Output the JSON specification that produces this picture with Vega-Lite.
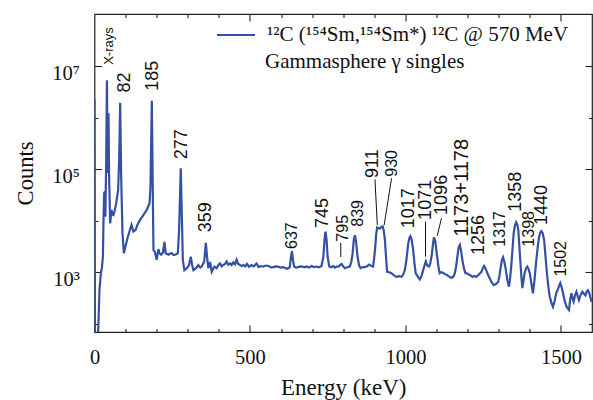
{
  "$schema": "https://vega.github.io/schema/vega-lite/v6.json",
  "width": 497.5,
  "height": 318,
  "autosize": {"type": "none"},
  "padding": {"left": 94.5, "top": 14, "right": 1, "bottom": 68},
  "background": "white",
  "config": {
    "view": {"stroke": "#222", "strokeWidth": 1.2},
    "axis": {"grid": false, "domain": false, "tickColor": "#222", "tickWidth": 1.1, "labelFlush": false}
  },
  "datasets": {
    "spectrum": [
      {"E":0,"C":2290000},{"E":1.5,"C":20},{"E":9,"C":20},{"E":12,"C":79},{"E":16,"C":457},{"E":20.5,"C":955},{"E":24,"C":1260},{"E":27,"C":2000},{"E":29,"C":10500},{"E":31,"C":34700},{"E":33,"C":36300},{"E":35,"C":12000},{"E":37.6,"C":151000},{"E":40,"C":5370000},{"E":42,"C":85000},{"E":45,"C":1230000},{"E":47,"C":72400},{"E":50.4,"C":8900},{"E":54.7,"C":16200},{"E":58,"C":13200},{"E":61,"C":12900},{"E":65,"C":15800},{"E":69.7,"C":21900},{"E":76,"C":39800},{"E":79.3,"C":151000},{"E":82.6,"C":1950000},{"E":85.8,"C":72400},{"E":90,"C":5750},{"E":94.4,"C":2340},{"E":99.6,"C":3160},{"E":106,"C":4570},{"E":112.4,"C":6170},{"E":119,"C":8320},{"E":125,"C":6170},{"E":132,"C":6610},{"E":138,"C":8320},{"E":147,"C":10500},{"E":157,"C":12900},{"E":168,"C":16200},{"E":177,"C":21900},{"E":180,"C":45700},{"E":184.4,"C":2140000},{"E":186.4,"C":151000},{"E":189.6,"C":2690},{"E":194,"C":2510},{"E":200,"C":1740},{"E":205.6,"C":2820},{"E":209,"C":2340},{"E":214,"C":2190},{"E":220,"C":2400},{"E":225,"C":3890},{"E":229,"C":2340},{"E":238,"C":2190},{"E":243,"C":2300},{"E":248.6,"C":2340},{"E":254,"C":2150},{"E":259,"C":2190},{"E":264,"C":2250},{"E":268,"C":2340},{"E":272,"C":6610},{"E":277.5,"C":105000},{"E":280.7,"C":14100},{"E":284,"C":1740},{"E":289,"C":1100},{"E":297,"C":1200},{"E":304,"C":1380},{"E":309.7,"C":2000},{"E":314,"C":1380},{"E":318,"C":1100},{"E":326.7,"C":1200},{"E":334,"C":1380},{"E":340,"C":1230},{"E":345,"C":1290},{"E":353,"C":1620},{"E":358,"C":3720},{"E":362,"C":2000},{"E":366,"C":1200},{"E":371.7,"C":1580},{"E":377,"C":1020},{"E":385.7,"C":1290},{"E":393,"C":1200},{"E":399,"C":1400},{"E":404,"C":1480},{"E":409,"C":1300},{"E":414,"C":1380},{"E":420,"C":1450},{"E":425,"C":1620},{"E":430,"C":1400},{"E":436,"C":1480},{"E":441,"C":1380},{"E":446.5,"C":1550},{"E":452,"C":1420},{"E":457,"C":1740},{"E":462,"C":1450},{"E":468,"C":1380},{"E":474,"C":1320},{"E":479,"C":1380},{"E":485,"C":1300},{"E":490,"C":1450},{"E":497,"C":1280},{"E":505,"C":1380},{"E":512,"C":1300},{"E":521,"C":1480},{"E":528,"C":1260},{"E":535,"C":1320},{"E":543,"C":1290},{"E":551,"C":1350},{"E":560,"C":1320},{"E":567,"C":1240},{"E":575,"C":1260},{"E":582,"C":1300},{"E":590,"C":1290},{"E":598,"C":1230},{"E":607,"C":1260},{"E":614,"C":1200},{"E":620,"C":1170},{"E":628,"C":1250},{"E":631.5,"C":1900},{"E":635,"C":2570},{"E":638.5,"C":1700},{"E":642,"C":1290},{"E":648,"C":1230},{"E":655,"C":1260},{"E":662,"C":1300},{"E":668,"C":1290},{"E":675,"C":1250},{"E":682,"C":1290},{"E":690,"C":1230},{"E":698,"C":1320},{"E":706,"C":1260},{"E":714,"C":1290},{"E":722,"C":1250},{"E":730,"C":1320},{"E":736,"C":2000},{"E":740,"C":4500},{"E":743,"C":6170},{"E":746.5,"C":4200},{"E":749.7,"C":2000},{"E":755,"C":1290},{"E":761,"C":1250},{"E":768,"C":1320},{"E":773,"C":1230},{"E":778.6,"C":1290},{"E":786,"C":1300},{"E":791,"C":1400},{"E":795,"C":1450},{"E":800,"C":1300},{"E":805,"C":1200},{"E":813,"C":1250},{"E":821,"C":1290},{"E":826,"C":1600},{"E":830,"C":2290},{"E":834,"C":4300},{"E":837.5,"C":5250},{"E":841,"C":4000},{"E":846,"C":2000},{"E":851,"C":1350},{"E":856,"C":1200},{"E":863,"C":1260},{"E":870,"C":1260},{"E":876,"C":1300},{"E":883,"C":1410},{"E":889,"C":1330},{"E":896,"C":1290},{"E":900,"C":2000},{"E":903,"C":3160},{"E":906,"C":5500},{"E":909,"C":7410},{"E":913,"C":7200},{"E":918,"C":7080},{"E":922,"C":7500},{"E":926.6,"C":7760},{"E":930,"C":6600},{"E":934,"C":4270},{"E":937,"C":2200},{"E":941,"C":1020},{"E":948,"C":1000},{"E":955,"C":955},{"E":963,"C":870},{"E":971,"C":813},{"E":979,"C":840},{"E":987.5,"C":813},{"E":993,"C":900},{"E":998,"C":1100},{"E":1003,"C":1700},{"E":1009,"C":3630},{"E":1013,"C":4700},{"E":1016,"C":5010},{"E":1020,"C":4300},{"E":1025,"C":2690},{"E":1029,"C":1500},{"E":1033,"C":955},{"E":1040,"C":820},{"E":1046,"C":724},{"E":1052,"C":850},{"E":1057,"C":1100},{"E":1062,"C":1400},{"E":1065.5,"C":1620},{"E":1070,"C":1350},{"E":1076,"C":1290},{"E":1080,"C":1500},{"E":1085,"C":2240},{"E":1089,"C":3700},{"E":1092,"C":4790},{"E":1096,"C":4000},{"E":1099,"C":2800},{"E":1102,"C":2000},{"E":1106,"C":1300},{"E":1110,"C":955},{"E":1115,"C":1000},{"E":1121,"C":977},{"E":1126,"C":930},{"E":1132,"C":891},{"E":1140,"C":830},{"E":1148,"C":776},{"E":1154,"C":820},{"E":1159,"C":955},{"E":1163,"C":1300},{"E":1167,"C":2000},{"E":1171,"C":3000},{"E":1175,"C":3390},{"E":1179,"C":2600},{"E":1183,"C":1740},{"E":1188,"C":1200},{"E":1193,"C":955},{"E":1198,"C":950},{"E":1205,"C":891},{"E":1210,"C":870},{"E":1215.5,"C":813},{"E":1222,"C":850},{"E":1228,"C":813},{"E":1236,"C":900},{"E":1244.5,"C":1020},{"E":1249,"C":1200},{"E":1253,"C":1320},{"E":1257,"C":1200},{"E":1262,"C":1020},{"E":1266,"C":880},{"E":1271,"C":759},{"E":1277,"C":640},{"E":1284,"C":562},{"E":1291,"C":590},{"E":1298,"C":646},{"E":1302,"C":820},{"E":1305,"C":1100},{"E":1310,"C":1700},{"E":1314,"C":1950},{"E":1318,"C":1600},{"E":1322,"C":1200},{"E":1327,"C":750},{"E":1333,"C":525},{"E":1337,"C":800},{"E":1341,"C":1480},{"E":1345,"C":3200},{"E":1348,"C":5620},{"E":1352,"C":8000},{"E":1356,"C":9300},{"E":1360,"C":8300},{"E":1363,"C":6610},{"E":1366,"C":3500},{"E":1370,"C":1480},{"E":1373,"C":800},{"E":1376,"C":490},{"E":1380,"C":700},{"E":1383,"C":955},{"E":1388,"C":1200},{"E":1392,"C":1290},{"E":1396,"C":1150},{"E":1400,"C":955},{"E":1405,"C":600},{"E":1410,"C":389},{"E":1415,"C":700},{"E":1421,"C":1740},{"E":1426,"C":3300},{"E":1430,"C":4900},{"E":1434,"C":6000},{"E":1437,"C":6310},{"E":1441,"C":5800},{"E":1446,"C":4270},{"E":1450,"C":2200},{"E":1455,"C":955},{"E":1460,"C":500},{"E":1464,"C":339},{"E":1469,"C":260},{"E":1474.5,"C":214},{"E":1480,"C":280},{"E":1485,"C":389},{"E":1491,"C":480},{"E":1495,"C":560},{"E":1498,"C":617},{"E":1502,"C":520},{"E":1507,"C":389},{"E":1512,"C":280},{"E":1518,"C":214},{"E":1522,"C":200},{"E":1526,"C":186},{"E":1530,"C":300},{"E":1534,"C":389},{"E":1538,"C":300},{"E":1541,"C":269},{"E":1545,"C":350},{"E":1550,"C":417},{"E":1554,"C":340},{"E":1558,"C":288},{"E":1563,"C":360},{"E":1569,"C":417},{"E":1574,"C":380},{"E":1579,"C":355},{"E":1583,"C":420},{"E":1587,"C":447},{"E":1592,"C":380},{"E":1598,"C":269},{"E":1600,"C":300}
    ],
    "labels_large": [
      {"label":"82","E":98.6,"C":3090000},{"label":"185","E":189.2,"C":3360000},{"label":"277","E":280.1,"C":156000},{"label":"359","E":359.8,"C":5980},{"label":"745","E":734.7,"C":7240},{"label":"911","E":896,"C":67800},{"label":"1017","E":1010,"C":7140},{"label":"1071","E":1065.5,"C":10400},{"label":"1096","E":1117.6,"C":13000},{"label":"1256","E":1238,"C":2170},{"label":"1358","E":1355.6,"C":15000},{"label":"1440","E":1440,"C":8280}
    ],
    "labels_doublet": [
      {"label":"1173+1178","E":1181.8,"C":4910}
    ],
    "labels_small": [
      {"label":"637","E":635,"C":2830},{"label":"795","E":800,"C":3930},{"label":"839","E":846.5,"C":7670},{"label":"930","E":955.3,"C":71800},{"label":"1317","E":1303,"C":3140},{"label":"1398","E":1397,"C":3140},{"label":"1502","E":1500,"C":822}
    ],
    "labels_xray": [
      {"label":"X-rays","E":45.6,"C":10700000}
    ],
    "leaders": [
      {"E":792,"C":3710,"E2":792,"C2":1980},
      {"E":902,"C":64000,"E2":909.5,"C2":8280},
      {"E":955.3,"C":66800,"E2":931.6,"C2":8280},
      {"E":1064.6,"C":9620,"E2":1064.6,"C2":2010},
      {"E":1116,"C":11200,"E2":1102,"C2":5070}
    ],
    "note": [
      {"label":"Gammasphere γ singles","E":548.3,"C":9270000}
    ]
  },
  "resolve": {"axis": {"x": "independent", "y": "independent"}},
  "layer": [
    {
      "data": {"name": "spectrum"},
      "mark": {"type": "line", "strokeWidth": 2.2, "clip": true},
      "encoding": {
        "x": {"field": "E", "type": "quantitative", "scale": {"domain": [0, 1600], "nice": false, "zero": false},
              "axis": {"orient": "bottom", "values": [0, 500, 1000, 1500], "tickSize": -7, "labelPadding": 22, "labelFont": "Liberation Serif", "labelFontSize": 20.5, "labelColor": "#111", "format": "d",
                       "title": "Energy (keV)", "titleFont": "Liberation Serif", "titleFontSize": 23, "titleFontWeight": "normal", "titleColor": "#111", "titlePadding": 9}},
        "y": {"field": "C", "type": "quantitative", "scale": {"type": "log", "domain": [69, 104000000], "nice": false},
              "axis": {"orient": "left", "values": [1000, 100000, 10000000], "tickSize": -7, "labelPadding": 22, "labelFont": "Liberation Serif", "labelFontSize": 20.5, "labelColor": "#111", "labelBaseline": "top", "labelOffset": -3,
                       "labelExpr": "datum.value == 1000 ? '10³' : datum.value == 100000 ? '10⁵' : '10⁷'",
                       "title": "Counts", "titleFont": "Liberation Serif", "titleFontSize": 22.5, "titleFontWeight": "normal", "titleColor": "#111", "titlePadding": 14}},
        "color": {"datum": "¹²C (¹⁵⁴Sm,¹⁵⁴Sm*) ¹²C @ 570 MeV", "type": "nominal", "scale": {"range": ["#3450a4"]},
                  "legend": {"orient": "none", "legendX": 121.5, "legendY": 1, "title": null, "padding": 0, "symbolType": "stroke", "symbolSize": 1444, "symbolStrokeWidth": 2, "labelOffset": 11, "labelFont": "Liberation Serif", "labelFontSize": 21, "labelColor": "#111", "labelLimit": 0}}
      }
    },
    {
      "data": {"name": "spectrum"},
      "mark": {"type": "line", "opacity": 0},
      "encoding": {
        "x": {"field": "E", "type": "quantitative", "scale": {"domain": [0, 1600], "nice": false, "zero": false},
              "axis": {"orient": "bottom", "values": [100, 200, 300, 400, 600, 700, 800, 900, 1100, 1200, 1300, 1400], "tickSize": -3.5, "labels": false, "title": null}},
        "y": {"field": "C", "type": "quantitative", "scale": {"type": "log", "domain": [69, 104000000], "nice": false},
              "axis": {"orient": "left", "values": [100, 10000, 1000000], "tickSize": -3.5, "labels": false, "title": null}}
      }
    },
    {
      "data": {"name": "spectrum"},
      "mark": {"type": "line", "opacity": 0},
      "encoding": {
        "x": {"field": "E", "type": "quantitative", "scale": {"domain": [0, 1600], "nice": false, "zero": false},
              "axis": {"orient": "top", "values": [500, 1000, 1500], "tickSize": -7, "labels": false, "title": null}},
        "y": {"field": "C", "type": "quantitative", "scale": {"type": "log", "domain": [69, 104000000], "nice": false},
              "axis": {"orient": "right", "values": [1000, 100000, 10000000], "tickSize": -7, "labels": false, "title": null}}
      }
    },
    {
      "data": {"name": "spectrum"},
      "mark": {"type": "line", "opacity": 0},
      "encoding": {
        "x": {"field": "E", "type": "quantitative", "scale": {"domain": [0, 1600], "nice": false, "zero": false},
              "axis": {"orient": "top", "values": [100, 200, 300, 400, 600, 700, 800, 900, 1100, 1200, 1300, 1400], "tickSize": -3.5, "labels": false, "title": null}},
        "y": {"field": "C", "type": "quantitative", "scale": {"type": "log", "domain": [69, 104000000], "nice": false},
              "axis": {"orient": "right", "values": [100, 10000, 1000000], "tickSize": -3.5, "labels": false, "title": null}}
      }
    },
    {
      "data": {"name": "leaders"},
      "mark": {"type": "rule", "color": "#111", "strokeWidth": 1},
      "encoding": {
        "x": {"field": "E", "type": "quantitative", "scale": {"domain": [0, 1600], "nice": false, "zero": false}, "axis": null},
        "x2": {"field": "E2"},
        "y": {"field": "C", "type": "quantitative", "scale": {"type": "log", "domain": [69, 104000000], "nice": false}, "axis": null},
        "y2": {"field": "C2"}
      }
    },
    {
      "data": {"name": "labels_large"},
      "mark": {"type": "text", "angle": 270, "align": "left", "baseline": "middle", "font": "Liberation Sans", "fontSize": 18, "color": "#111"},
      "encoding": {
        "x": {"field": "E", "type": "quantitative", "scale": {"domain": [0, 1600], "nice": false, "zero": false}, "axis": null},
        "y": {"field": "C", "type": "quantitative", "scale": {"type": "log", "domain": [69, 104000000], "nice": false}, "axis": null},
        "text": {"field": "label"}
      }
    },
    {
      "data": {"name": "labels_doublet"},
      "mark": {"type": "text", "angle": 270, "align": "left", "baseline": "middle", "font": "Liberation Sans", "fontSize": 20, "color": "#111"},
      "encoding": {
        "x": {"field": "E", "type": "quantitative", "scale": {"domain": [0, 1600], "nice": false, "zero": false}, "axis": null},
        "y": {"field": "C", "type": "quantitative", "scale": {"type": "log", "domain": [69, 104000000], "nice": false}, "axis": null},
        "text": {"field": "label"}
      }
    },
    {
      "data": {"name": "labels_small"},
      "mark": {"type": "text", "angle": 270, "align": "left", "baseline": "middle", "font": "Liberation Sans", "fontSize": 16, "color": "#111"},
      "encoding": {
        "x": {"field": "E", "type": "quantitative", "scale": {"domain": [0, 1600], "nice": false, "zero": false}, "axis": null},
        "y": {"field": "C", "type": "quantitative", "scale": {"type": "log", "domain": [69, 104000000], "nice": false}, "axis": null},
        "text": {"field": "label"}
      }
    },
    {
      "data": {"name": "labels_xray"},
      "mark": {"type": "text", "angle": 270, "align": "left", "baseline": "middle", "font": "Liberation Sans", "fontSize": 13, "color": "#111"},
      "encoding": {
        "x": {"field": "E", "type": "quantitative", "scale": {"domain": [0, 1600], "nice": false, "zero": false}, "axis": null},
        "y": {"field": "C", "type": "quantitative", "scale": {"type": "log", "domain": [69, 104000000], "nice": false}, "axis": null},
        "text": {"field": "label"}
      }
    },
    {
      "data": {"name": "note"},
      "mark": {"type": "text", "align": "left", "baseline": "alphabetic", "font": "Liberation Serif", "fontSize": 21, "color": "#111"},
      "encoding": {
        "x": {"field": "E", "type": "quantitative", "scale": {"domain": [0, 1600], "nice": false, "zero": false}, "axis": null},
        "y": {"field": "C", "type": "quantitative", "scale": {"type": "log", "domain": [69, 104000000], "nice": false}, "axis": null},
        "text": {"field": "label"}
      }
    }
  ]
}
